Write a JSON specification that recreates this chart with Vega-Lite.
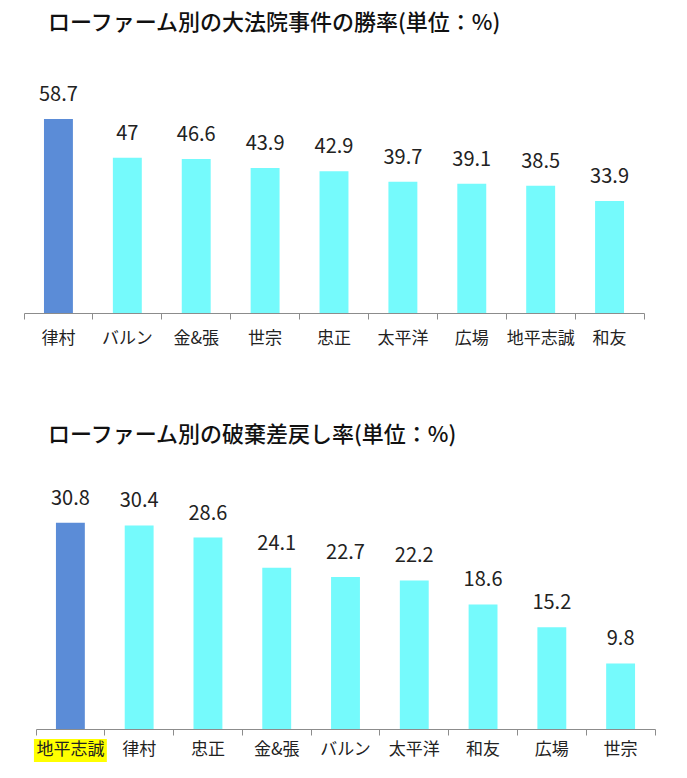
{
  "$schema": "https://vega.github.io/schema/vega-lite/v6.json",
  "description": "Two bar charts: Supreme Court win rate and reversal rate by law firm.",
  "padding": {"left": 23, "top": 12, "right": 10, "bottom": 5},
  "background": "white",
  "spacing": 76,
  "datasets": {
    "winRate": [
      {"firm": "律村", "rate": 58.7, "top": true},
      {"firm": "バルン", "rate": 47, "top": false},
      {"firm": "金&張", "rate": 46.6, "top": false},
      {"firm": "世宗", "rate": 43.9, "top": false},
      {"firm": "忠正", "rate": 42.9, "top": false},
      {"firm": "太平洋", "rate": 39.7, "top": false},
      {"firm": "広場", "rate": 39.1, "top": false},
      {"firm": "地平志誠", "rate": 38.5, "top": false},
      {"firm": "和友", "rate": 33.9, "top": false}
    ],
    "reversalRate": [
      {"firm": "地平志誠", "rate": 30.8, "top": true},
      {"firm": "律村", "rate": 30.4, "top": false},
      {"firm": "忠正", "rate": 28.6, "top": false},
      {"firm": "金&張", "rate": 24.1, "top": false},
      {"firm": "バルン", "rate": 22.7, "top": false},
      {"firm": "太平洋", "rate": 22.2, "top": false},
      {"firm": "和友", "rate": 18.6, "top": false},
      {"firm": "広場", "rate": 15.2, "top": false},
      {"firm": "世宗", "rate": 9.8, "top": false}
    ]
  },
  "config": {
    "font": "Noto Sans CJK JP",
    "view": {"stroke": null},
    "axis": {"grid": false},
    "title": {
      "font": "Noto Sans CJK JP",
      "fontSize": 22,
      "fontWeight": 500,
      "color": "#111111",
      "anchor": "start",
      "frame": "group",
      "dx": 24
    },
    "text": {"font": "Noto Sans CJK JP", "color": "#222222"}
  },
  "vconcat": [
    {
      "title": {"text": "ローファーム別の大法院事件の勝率(単位：%)", "offset": 50},
      "width": 620,
      "height": 228,
      "data": {"name": "winRate"},
      "encoding": {
        "x": {
          "field": "firm",
          "type": "nominal",
          "sort": null,
          "scale": {"paddingInner": 0, "paddingOuter": 0},
          "axis": {
            "title": null,
            "labels": false,
            "domainColor": "#8c8c8c",
            "tickColor": "#8c8c8c",
            "tickSize": 6,
            "bandPosition": 1,
            "tickExtra": true
          }
        }
      },
      "layer": [
        {
          "mark": {"type": "bar", "width": {"band": 0.42}},
          "encoding": {
            "y": {"field": "rate", "type": "quantitative", "scale": {"domain": [0, 69]}, "axis": null},
            "color": {
              "condition": {"test": "datum.top", "value": "#5b8cd7"},
              "value": "#75fafc"
            }
          }
        },
        {
          "mark": {"type": "text", "baseline": "alphabetic", "dy": -18, "fontSize": 20},
          "encoding": {
            "y": {"field": "rate", "type": "quantitative", "scale": {"domain": [0, 69]}},
            "text": {"field": "rate", "type": "nominal"}
          }
        },
        {
          "mark": {"type": "text", "baseline": "middle", "fontSize": 17},
          "encoding": {
            "y": {"datum": -7.9, "scale": {"domain": [0, 69]}},
            "text": {"field": "firm", "type": "nominal"}
          }
        }
      ]
    },
    {
      "title": {"text": "ローファーム別の破棄差戻し率(単位：%)", "offset": 41},
      "width": 631,
      "height": 241,
      "data": {"name": "reversalRate"},
      "encoding": {
        "x": {
          "field": "firm",
          "type": "nominal",
          "sort": null,
          "scale": {"paddingInner": 0, "paddingOuter": 0, "range": [12, 631]},
          "axis": {
            "title": null,
            "labels": false,
            "domainColor": "#8c8c8c",
            "tickColor": "#8c8c8c",
            "tickSize": 6,
            "bandPosition": 1,
            "tickExtra": true
          }
        }
      },
      "layer": [
        {
          "mark": {"type": "bar", "width": {"band": 0.42}},
          "encoding": {
            "y": {"field": "rate", "type": "quantitative", "scale": {"domain": [0, 36]}, "axis": null},
            "color": {
              "condition": {"test": "datum.top", "value": "#5b8cd7"},
              "value": "#75fafc"
            }
          }
        },
        {
          "transform": [{"filter": "datum.top"}],
          "mark": {"type": "rect", "color": "#ffff00", "width": {"band": 1.06}},
          "encoding": {
            "y": {"datum": -1.5, "scale": {"domain": [0, 36]}},
            "y2": {"datum": -4.93}
          }
        },
        {
          "mark": {"type": "text", "baseline": "alphabetic", "dy": -18, "fontSize": 20},
          "encoding": {
            "y": {"field": "rate", "type": "quantitative", "scale": {"domain": [0, 36]}},
            "text": {"field": "rate", "type": "nominal"}
          }
        },
        {
          "mark": {"type": "text", "baseline": "middle", "fontSize": 17},
          "encoding": {
            "y": {"datum": -3.14, "scale": {"domain": [0, 36]}},
            "text": {"field": "firm", "type": "nominal"}
          }
        }
      ]
    }
  ]
}
